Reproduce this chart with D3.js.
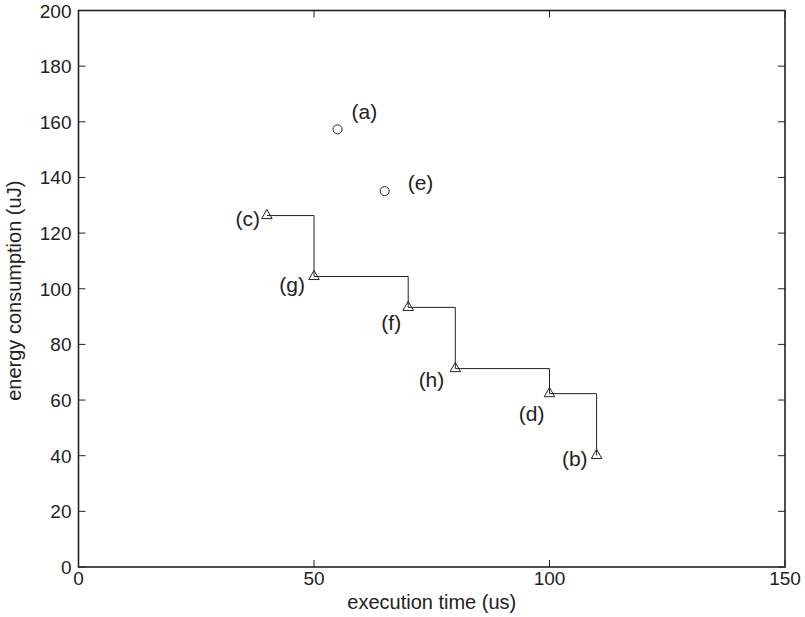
<!DOCTYPE html>
<head>
<script src="https://d3js.org/d3.v7.min.js"></script>
<meta charset="utf-8">
<style>
body { margin: 0; background: #fff; }
text { font-family: "Liberation Sans", Arial, sans-serif; fill: #222; }
</style>
</head>
<body>
<svg id="chart"></svg>
<script>

// data
var xTicks = [0, 50, 100, 150];
var yTicks = [0, 20, 40, 60, 80, 100, 120, 140, 160, 180, 200];

// pareto front (triangles, joined by a staircase)
var frontLabels = ["(c)", "(g)", "(f)", "(h)", "(d)", "(b)"];
var frontTime   = [40, 50, 70, 80, 100, 110];
var frontEnergy = [126.3, 104.4, 93.3, 71.3, 62.3, 40.1];

// other design points (circles)
var otherLabels = ["(a)", "(e)"];
var otherTime   = [55, 65];
var otherEnergy = [157.3, 135.1];

// chart parameters
var width = 805, height = 617;
var margin = {left: 78.5, right: 20, top: 10.5, bottom: 50};

var svg = d3.select("#chart")
    .attr("width", width)
    .attr("height", height);

var x = d3.scaleLinear().domain([0, 150]).range([margin.left, width - margin.right]);
var y = d3.scaleLinear().domain([0, 200]).range([height - margin.bottom, margin.top]);

var x0 = x.range()[0], x1 = x.range()[1], y0 = y.range()[0], y1 = y.range()[1];
var tickLen = 7;

// inward ticks on all four sides
var ticks = svg.append("g").attr("stroke", "#222").attr("stroke-width", 1);
xTicks.forEach(t => {
    ticks.append("line").attr("x1", x(t)).attr("x2", x(t)).attr("y1", y0).attr("y2", y0 - tickLen);
    ticks.append("line").attr("x1", x(t)).attr("x2", x(t)).attr("y1", y1).attr("y2", y1 + tickLen);
});
yTicks.forEach(t => {
    ticks.append("line").attr("x1", x0).attr("x2", x0 + tickLen).attr("y1", y(t)).attr("y2", y(t));
    ticks.append("line").attr("x1", x1).attr("x2", x1 - tickLen).attr("y1", y(t)).attr("y2", y(t));
});

// box
svg.append("rect")
    .attr("x", x0).attr("y", y1)
    .attr("width", x1 - x0).attr("height", y0 - y1)
    .attr("fill", "none").attr("stroke", "#222").attr("stroke-width", 1.6);

// tick labels
svg.append("g").selectAll("text")
    .data(xTicks).join("text")
    .attr("x", d => x(d)).attr("y", y0 + 18)
    .attr("text-anchor", "middle")
    .style("font-size", "19px")
    .text(d => d);

svg.append("g").selectAll("text")
    .data(yTicks).join("text")
    .attr("x", x0 - 7).attr("y", d => y(d) + 7)
    .attr("text-anchor", "end")
    .style("font-size", "19px")
    .text(d => d);

// axis titles
svg.append("text")
    .attr("x", (x0 + x1) / 2).attr("y", 609)
    .attr("text-anchor", "middle")
    .style("font-size", "20px")
    .text("execution time (us)");

svg.append("text")
    .attr("transform", "translate(21," + ((y0 + y1) / 2 + 2) + ") rotate(-90)")
    .attr("text-anchor", "middle")
    .style("font-size", "20px")
    .text("energy consumption (uJ)");

// staircase
var front = frontTime.map((t, i) => ({t: t, e: frontEnergy[i], label: frontLabels[i]}));
var line = d3.line().x(d => x(d.t)).y(d => y(d.e)).curve(d3.curveStepAfter);
svg.append("path")
    .datum(front)
    .attr("d", line)
    .attr("fill", "none")
    .attr("stroke", "#222")
    .attr("stroke-width", 1);

// triangles
var tri = d3.symbol().type(d3.symbolTriangle).size(48);
svg.append("g").selectAll("path")
    .data(front).join("path")
    .attr("transform", d => "translate(" + x(d.t) + "," + y(d.e) + ")")
    .attr("d", tri)
    .attr("fill", "none")
    .attr("stroke", "#222")
    .attr("stroke-width", 1);

// circles
var others = otherTime.map((t, i) => ({t: t, e: otherEnergy[i], label: otherLabels[i]}));
svg.append("g").selectAll("circle")
    .data(others).join("circle")
    .attr("cx", d => x(d.t)).attr("cy", d => y(d.e))
    .attr("r", 4.5)
    .attr("fill", "none")
    .attr("stroke", "#222")
    .attr("stroke-width", 1);

// point labels, offsets in pixels
var frontOffsets = [[-7, 10.5], [-9, 15.5], [-7, 23], [-11, 18.5], [-5, 27.5], [-9, 10.5]];
svg.append("g").selectAll("text")
    .data(front).join("text")
    .attr("x", (d, i) => x(d.t) + frontOffsets[i][0])
    .attr("y", (d, i) => y(d.e) + frontOffsets[i][1])
    .attr("text-anchor", "end")
    .style("font-size", "21px")
    .text(d => d.label);

var otherOffsets = [[14, -10.5], [23, -1.5]];
svg.append("g").selectAll("text")
    .data(others).join("text")
    .attr("x", (d, i) => x(d.t) + otherOffsets[i][0])
    .attr("y", (d, i) => y(d.e) + otherOffsets[i][1])
    .style("font-size", "21px")
    .text(d => d.label);

</script>
</body>
